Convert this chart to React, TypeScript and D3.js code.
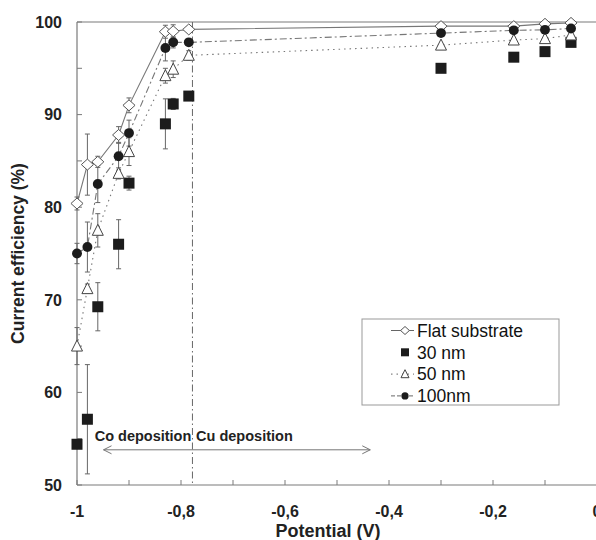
import React, { useEffect, useRef } from 'react';
import * as d3 from 'd3';

// Potential (V) of each measurement
const potentials = [-1, -0.98, -0.96, -0.92, -0.9, -0.83, -0.815, -0.785, -0.3, -0.16, -0.1, -0.05];

// Current efficiency (%) per series, with error bar half-widths
const flatValues = [80.4, 84.6, 84.9, 87.8, 91.0, 98.95, 99.0, 99.2, 99.55, 99.55, 99.8, 99.9];
const flatErr = [0.7, 3.3, 0.6, 0.9, 0.8, 0.7, 0.7, 0.3, 0, 0, 0, 0];
const nm30Values = [54.4, 57.1, 69.25, 76.0, 82.6, 89.0, 91.15, 92.0, 95.0, 96.2, 96.8, 97.8];
const nm30Err = [0, 5.9, 2.6, 2.65, 0.75, 2.7, 0.6, 0, 0, 0, 0, 0];
const nm50Values = [65.0, 71.2, 77.5, 83.65, 86.0, 94.2, 94.9, 96.4, 97.5, 98.05, 98.2, 98.6];
const nm50Err = [2.0, 0.5, 1.8, 0.6, 1.5, 0.8, 0.9, 0.5, 0, 0, 0, 0];
const nm100Values = [75.0, 75.7, 82.5, 85.5, 88.0, 97.2, 97.8, 97.8, 98.8, 99.1, 99.15, 99.3];
const nm100Err = [1.1, 2.7, 2.0, 1.5, 1.4, 1.4, 0.6, 0.3, 0, 0, 0, 0];

const seriesNames = ['Flat substrate', '30 nm', '50 nm', '100nm'];

// Axis ticks
const xMinorTicks = [-1, -0.9, -0.8, -0.7, -0.6, -0.5, -0.4, -0.3, -0.2, -0.1, 0];
const xLabelTicks = [-1, -0.8, -0.6, -0.4, -0.2, 0];
const yMinorTicks = [50, 55, 60, 65, 70, 75, 80, 85, 90, 95, 100];
const yLabelTicks = [50, 60, 70, 80, 90, 100];

// Annotation: boundary between Co and Cu deposition, and the arrow
const boundaryPotential = -0.778;
const arrowFrom = -0.949;
const arrowTo = -0.436;
const arrowLevel = 53.8;
const labelLevel = 54.8;
const coLabelStart = -0.966;
const cuLabelStart = -0.771;

const App = () => {
    const svgRef = useRef(null);

    useEffect(() => {
        const svg = d3.select(svgRef.current);
        svg.selectAll('*').remove();

        const x = d3.scaleLinear().domain([-1, 0]).range([77, 597]);
        const y = d3.scaleLinear().domain([50, 100]).range([485, 22]);
        const font = 'Liberation Sans, Arial, sans-serif';
        const axisColor = '#7a7a7a';

        const g = svg.append('g');

        // frame
        g.append('line').attr('x1', x(-1)).attr('x2', x(0)).attr('y1', y(100)).attr('y2', y(100))
            .attr('stroke', axisColor).attr('stroke-width', 1.2);
        g.append('line').attr('x1', x(-1)).attr('x2', x(0)).attr('y1', y(50)).attr('y2', y(50))
            .attr('stroke', axisColor).attr('stroke-width', 1.2);
        g.append('line').attr('x1', x(-1)).attr('x2', x(-1)).attr('y1', y(50)).attr('y2', y(100))
            .attr('stroke', axisColor).attr('stroke-width', 1.2);

        // x ticks (inward)
        g.selectAll('.xt').data(xMinorTicks).enter().append('line')
            .attr('x1', d => x(d)).attr('x2', d => x(d))
            .attr('y1', y(50)).attr('y2', y(50) - 5)
            .attr('stroke', axisColor);
        g.selectAll('.xl').data(xLabelTicks).enter().append('text')
            .attr('x', d => x(d)).attr('y', 517)
            .attr('text-anchor', 'middle')
            .attr('font-family', font).attr('font-weight', 'bold').attr('font-size', 16)
            .attr('fill', '#222')
            .text(d => String(+d.toFixed(1)).replace('.', ','));

        // y ticks (inward)
        g.selectAll('.yt').data(yMinorTicks).enter().append('line')
            .attr('x1', x(-1)).attr('x2', x(-1) + 5)
            .attr('y1', d => y(d)).attr('y2', d => y(d))
            .attr('stroke', axisColor);
        g.selectAll('.yl').data(yLabelTicks).enter().append('text')
            .attr('x', 62).attr('y', d => y(d)).attr('dy', '0.36em')
            .attr('text-anchor', 'end')
            .attr('font-family', font).attr('font-weight', 'bold').attr('font-size', 16)
            .attr('fill', '#222')
            .text(d => d);

        // axis titles
        g.append('text')
            .attr('x', 328).attr('y', 537)
            .attr('text-anchor', 'middle')
            .attr('font-family', font).attr('font-weight', 'bold').attr('font-size', 18)
            .attr('fill', '#222')
            .text('Potential (V)');
        g.append('text')
            .attr('transform', `translate(24,${(y(50) + y(100)) / 2}) rotate(-90)`)
            .attr('text-anchor', 'middle')
            .attr('font-family', font).attr('font-weight', 'bold').attr('font-size', 17.5)
            .attr('fill', '#222')
            .text('Current efficiency (%)');

        // Co / Cu boundary
        g.append('line')
            .attr('x1', x(boundaryPotential)).attr('x2', x(boundaryPotential))
            .attr('y1', y(100)).attr('y2', y(50))
            .attr('stroke', '#666').attr('stroke-width', 1)
            .attr('stroke-dasharray', '7,3,1.5,3');

        // double arrow
        const ay = y(arrowLevel);
        g.append('line')
            .attr('x1', x(arrowFrom)).attr('x2', x(arrowTo)).attr('y1', ay).attr('y2', ay)
            .attr('stroke', '#777').attr('stroke-width', 1);
        g.append('path')
            .attr('d', `M${x(arrowFrom) + 8},${ay - 4}L${x(arrowFrom)},${ay}L${x(arrowFrom) + 8},${ay + 4}`)
            .attr('fill', 'none').attr('stroke', '#777');
        g.append('path')
            .attr('d', `M${x(arrowTo) - 8},${ay - 4}L${x(arrowTo)},${ay}L${x(arrowTo) - 8},${ay + 4}`)
            .attr('fill', 'none').attr('stroke', '#777');
        g.append('text')
            .attr('x', x(coLabelStart)).attr('y', y(labelLevel))
            .attr('font-family', font).attr('font-weight', 'bold').attr('font-size', 14.5)
            .attr('fill', '#222')
            .text('Co deposition');
        g.append('text')
            .attr('x', x(cuLabelStart)).attr('y', y(labelLevel))
            .attr('font-family', font).attr('font-weight', 'bold').attr('font-size', 14.5)
            .attr('fill', '#222')
            .text('Cu deposition');

        const series = [
            { name: seriesNames[0], values: flatValues, err: flatErr, marker: 'diamond', dash: null },
            { name: seriesNames[1], values: nm30Values, err: nm30Err, marker: 'square', dash: 'none' },
            { name: seriesNames[2], values: nm50Values, err: nm50Err, marker: 'triangle', dash: '1.5,4' },
            { name: seriesNames[3], values: nm100Values, err: nm100Err, marker: 'circle', dash: '7,3,2,3' },
        ];

        const drawMarker = (sel, type, cx, cy, s) => {
            if (type === 'diamond') {
                sel.append('path')
                    .attr('d', `M${cx},${cy - s}L${cx + s * 1.1},${cy}L${cx},${cy + s}L${cx - s * 1.1},${cy}Z`)
                    .attr('fill', '#fff').attr('stroke', '#555').attr('stroke-width', 1);
            } else if (type === 'square') {
                sel.append('rect')
                    .attr('x', cx - s).attr('y', cy - s).attr('width', 2 * s).attr('height', 2 * s)
                    .attr('fill', '#1c1c1c');
            } else if (type === 'triangle') {
                sel.append('path')
                    .attr('d', `M${cx},${cy - s * 1.1}L${cx + s},${cy + s * 0.9}L${cx - s},${cy + s * 0.9}Z`)
                    .attr('fill', '#fff').attr('stroke', '#444').attr('stroke-width', 1);
            } else {
                sel.append('circle')
                    .attr('cx', cx).attr('cy', cy).attr('r', s * 0.9)
                    .attr('fill', '#1c1c1c');
            }
        };

        const line = d3.line().x((d, i) => x(potentials[i])).y(d => y(d));

        // connecting lines
        series.forEach(s => {
            if (s.dash === 'none') return;
            g.append('path')
                .datum(s.values)
                .attr('fill', 'none')
                .attr('stroke', '#777')
                .attr('stroke-width', 1.1)
                .attr('stroke-dasharray', s.dash)
                .attr('d', line);
        });

        // error bars
        series.forEach(s => {
            s.values.forEach((v, i) => {
                const e = s.err[i];
                if (!e) return;
                const cx = x(potentials[i]);
                g.append('line').attr('x1', cx).attr('x2', cx).attr('y1', y(v - e)).attr('y2', y(v + e))
                    .attr('stroke', '#666').attr('stroke-width', 1);
                [v - e, v + e].forEach(t => {
                    g.append('line').attr('x1', cx - 2.5).attr('x2', cx + 2.5).attr('y1', y(t)).attr('y2', y(t))
                        .attr('stroke', '#666').attr('stroke-width', 1);
                });
            });
        });

        // markers
        const drawOrder = [1, 2, 0, 3];
        drawOrder.forEach(k => {
            const s = series[k];
            s.values.forEach((v, i) => drawMarker(g, s.marker, x(potentials[i]), y(v), 5.5));
        });

        // legend
        const legend = g.append('g').attr('transform', 'translate(362,319)');
        legend.append('rect').attr('width', 197).attr('height', 86)
            .attr('fill', '#fff').attr('stroke', '#999').attr('stroke-width', 1);
        series.forEach((s, i) => {
            const cy = 11.5 + i * 21.8;
            if (s.dash !== 'none') {
                legend.append('line').attr('x1', 29).attr('x2', 52).attr('y1', cy).attr('y2', cy)
                    .attr('stroke', '#666').attr('stroke-width', 1)
                    .attr('stroke-dasharray', s.marker === 'circle' ? '4,2' : s.dash);
            }
            drawMarker(legend, s.marker, 43, cy, 4);
            legend.append('text')
                .attr('x', 55).attr('y', cy).attr('dy', '0.36em')
                .attr('font-family', font).attr('font-size', 17.5)
                .attr('fill', '#111')
                .text(s.name);
        });
    }, []);

    return (
        <svg ref={svgRef} width={596} height={540}
            style={{ position: 'absolute', left: 0, top: 0, background: '#fff' }} />
    );
};

export default App;
